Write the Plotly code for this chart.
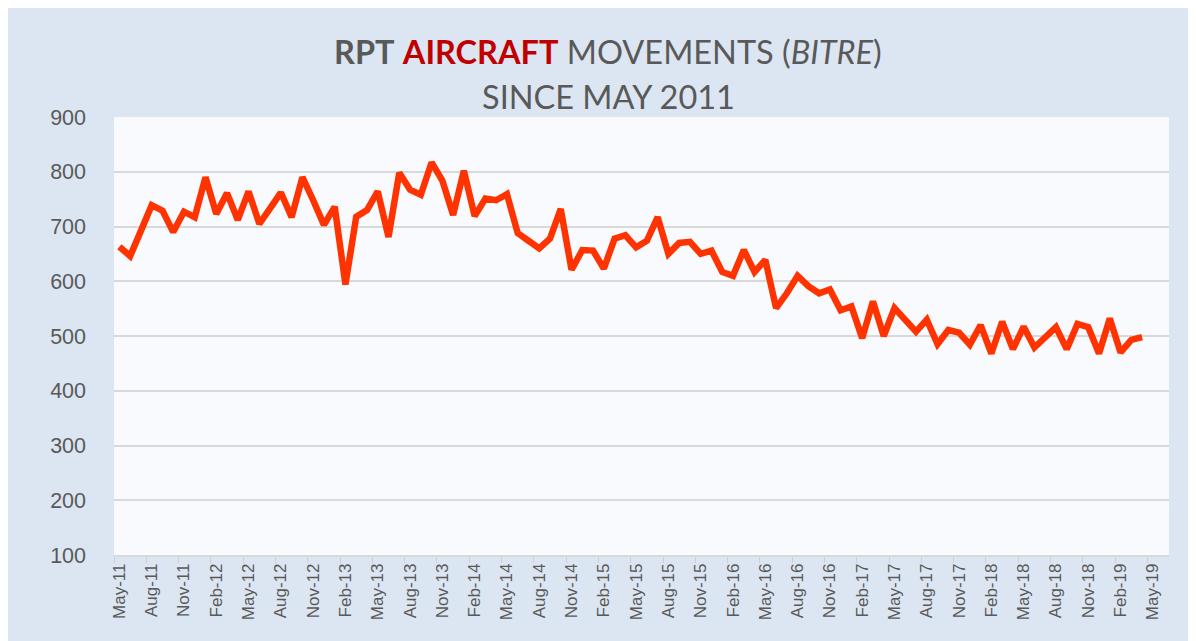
import plotly.graph_objects as go
import pandas as pd

# Monthly RPT aircraft movements, May-2011 .. Apr-2019
movements = [
    663, 646, 692, 739, 729, 690, 727, 717, 790, 723, 761, 712,
    764, 705, 733, 762, 717, 790, 748, 703, 736, 594, 718, 730,
    764, 681, 798, 767, 758, 817, 784, 721, 802, 719, 751, 748,
    759, 688, 674, 660, 678, 732, 621, 657, 656, 623, 678, 684,
    662, 674, 717, 650, 670, 672, 650, 656, 617, 610, 657, 617,
    639, 551, 578, 610, 591, 578, 585, 547, 554, 496, 563, 500,
    551, 529, 508, 530, 485, 511, 506, 484, 520, 468, 526, 476,
    517, 479, 496, 516, 476, 522, 516, 468, 532, 470, 493, 498,
]

# Category axis: May-11 .. Jun-19 (axis extends past the last data month)
months = list(pd.date_range("2011-05-01", periods=98, freq="MS").strftime("%b-%y"))
data_months = months[:len(movements)]

y_ticks = [100, 200, 300, 400, 500, 600, 700, 800, 900]

fig = go.Figure()
fig.add_trace(go.Scatter(
    x=data_months, y=movements, mode="lines",
    line=dict(color="#ff3300", width=6.5),
    hoverinfo="x+y", showlegend=False,
))

W, H = 1188, 633
L, R, T, B = 106, 27, 109, 86
pw = W - L - R

title_font = dict(family="Lato, Carlito, sans-serif", size=32.5, color="#595959")

fig.update_layout(
    width=W, height=H,
    margin=dict(l=L, r=R, t=T, b=B, autoexpand=False),
    paper_bgcolor="#dce6f2",
    plot_bgcolor="#f9fafd",
    font=dict(family="Liberation Sans, Arial, sans-serif", color="#595959"),
    xaxis=dict(
        type="category", categoryorder="array", categoryarray=months,
        range=[-0.5, len(months) - 0.5], automargin=False,
        tickmode="linear", tick0=0, dtick=3,
        tickson="boundaries", ticks="outside", ticklen=6, tickcolor="#d0d0d0",
        tickangle=-90, tickfont=dict(size=17, color="#595959"),
        showgrid=False, showline=True, linecolor="#d9d9d9", linewidth=1.5,
        zeroline=False,
    ),
    yaxis=dict(
        range=[100, 900], tickvals=y_ticks, automargin=False,
        showgrid=True, gridcolor="#d9d9d9", gridwidth=1.5,
        tickfont=dict(size=21.5, color="#595959"),
        ticks="", ticklabelstandoff=27, zeroline=False, showline=False,
    ),
    annotations=[
        dict(
            xref="paper", yref="paper", x=(600 - L) / pw, y=1,
            yshift=66, yanchor="middle", xanchor="center", showarrow=False,
            text=("<b>RPT</b> <b><span style='color:#c00000'>AIRCRAFT</span></b> "
                  "MOVEMENTS (<i>BITRE</i>)"),
            font=title_font,
        ),
        dict(
            xref="paper", yref="paper", x=(600 - L) / pw, y=1,
            yshift=21, yanchor="middle", xanchor="center", showarrow=False,
            text="SINCE MAY 2011",
            font=title_font,
        ),
    ],
)

fig.write_html("out.html")
